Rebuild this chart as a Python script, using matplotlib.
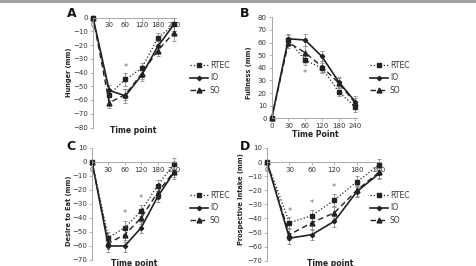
import numpy as np
import matplotlib
matplotlib.use("Agg")
import matplotlib.pyplot as plt
from matplotlib.lines import Line2D

# time points (categorical)
times = ["0", "30", "60", "120", "180", "240"]

# A - Hunger
hunger_rtec = [0, -56, -45, -37, -15, -5]
hunger_io = [0, -53, -57, -42, -21, -5]
hunger_so = [0, -62, -56, -41, -24, -11]
hunger_rtec_err = [0, 4, 5, 4, 4, 5]
hunger_io_err = [0, 4, 5, 4, 4, 5]
hunger_so_err = [0, 4, 4, 4, 4, 6]
hunger_stars = [(2, -36)]

# B - Fullness
full_rtec = [0, 62, 46, 40, 21, 9]
full_io = [0, 63, 62, 49, 29, 13]
full_so = [0, 60, 52, 41, 28, 12]
full_rtec_err = [0, 4, 4, 4, 3, 4]
full_io_err = [0, 4, 5, 4, 4, 5]
full_so_err = [0, 4, 5, 4, 4, 4]
full_stars = [(2, 35.5)]

# C - Desire to eat
desire_rtec = [0, -54, -47, -35, -17, -1.5]
desire_io = [0, -60, -60, -47, -25, -7.5]
desire_so = [0, -58, -52, -40, -22, -7]
desire_rtec_err = [0, 4, 5, 4, 4, 4]
desire_io_err = [0, 4, 4, 4, 4, 5]
desire_so_err = [0, 4, 5, 4, 4, 4]
desire_stars = [(2, -37), (3, -26)]

# D - Prospective intake
pi_rtec = [0, -43, -38, -27, -14, -2]
pi_io = [0, -54, -51.5, -42, -21, -8]
pi_so = [0, -51.5, -43, -36, -20, -7]
pi_rtec_err = [0, 4, 4, 4, 4, 4]
pi_io_err = [0, 4, 4, 4, 4, 4]
pi_so_err = [0, 4, 5, 4, 4, 4]
pi_stars = [(1, -35), (2, -29.5), (3, -18)]

W, H = 477, 266
fig = plt.figure(figsize=(W / 100, H / 100), dpi=100)
fig.patch.set_facecolor("white")

INK = "#222222"
ERR = "#8a8a8a"
SPINE = "#9a9a9a"


def axes_px(left, right, top, bottom):
    return fig.add_axes([left / W, 1 - bottom / H, (right - left) / W, (bottom - top) / H])


def panel(ax, rtec, io, so, e_r, e_i, e_s, stars, ylim, yticks, zero_line):
    x = np.arange(len(times))
    kw = dict(ecolor=ERR, elinewidth=0.6, capsize=1.5, capthick=0.6, clip_on=False)
    ax.errorbar(x, so, yerr=e_s, color=INK, ls=(0, (4, 2.5)), lw=1.0,
                marker="^", ms=3.5, **kw)
    ax.errorbar(x, rtec, yerr=e_r, color=INK, ls=":", lw=0.9,
                marker="s", ms=3.5, **kw)
    ax.errorbar(x, io, yerr=e_i, color=INK, ls="-", lw=1.2,
                marker="D", ms=2.2, **kw)
    for i, y in stars:
        ax.text(i, y, "*", ha="center", va="center", fontsize=6, color="#777777")
    ax.set_xlim(0, 5.1)
    ax.set_ylim(*ylim)
    ax.set_yticks(yticks)
    ax.set_xticks(x)
    ax.set_xticklabels(times)
    for s in ["top", "right"]:
        ax.spines[s].set_visible(False)
    if zero_line:
        ax.spines["bottom"].set_position(("data", 0))
    for s in ["left", "bottom"]:
        ax.spines[s].set_color(SPINE)
        ax.spines[s].set_linewidth(0.6)
    ax.tick_params(axis="both", labelsize=5, colors="#333333", length=2,
                   width=0.5, pad=1.5, direction="out")
    ax.tick_params(axis="both", color=SPINE)
    ax.patch.set_alpha(0)


axA = axes_px(93, 175.6, 17.5, 127.5)
panel(axA, hunger_rtec, hunger_io, hunger_so, hunger_rtec_err, hunger_io_err,
      hunger_so_err, hunger_stars, (-80, 0), range(-80, 1, 10), True)

axB = axes_px(271.7, 357, 17.3, 118.3)
panel(axB, full_rtec, full_io, full_so, full_rtec_err, full_io_err,
      full_so_err, full_stars, (0, 80), range(0, 81, 10), False)

axC = axes_px(92, 175.6, 147.7, 260)
panel(axC, desire_rtec, desire_io, desire_so, desire_rtec_err, desire_io_err,
      desire_so_err, desire_stars, (-70, 10), range(-70, 11, 10), True)

axD = axes_px(267, 381.5, 148, 260.7)
panel(axD, pi_rtec, pi_io, pi_so, pi_rtec_err, pi_io_err,
      pi_so_err, pi_stars, (-70, 10), range(-70, 11, 10), True)

# axis titles
lab = dict(fontsize=5.5, fontweight="bold", color="#222222")
ylab = dict(fontsize=4.8, fontweight="bold", color="#222222")
axA.set_ylabel("Hunger (mm)", **ylab)
axA.yaxis.set_label_coords(-0.25, 0.5)
axB.set_ylabel("Fullness (mm)", **ylab)
axB.yaxis.set_label_coords(-0.235, 0.45)
axC.set_ylabel("Desire to Eat (mm)", **ylab)
axC.yaxis.set_label_coords(-0.24, 0.44)
axD.set_ylabel("Prospective Intake (mm)", **ylab)
axD.yaxis.set_label_coords(-0.2, 0.55)

fig.text(133 / W, 1 - 131 / H, "Time point", ha="center", va="center", **lab)
fig.text(315 / W, 1 - 134.5 / H, "Time Point", ha="center", va="center", **lab)
fig.text(134 / W, 1 - 263 / H, "Time point", ha="center", va="center", **lab)
fig.text(330 / W, 1 - 263 / H, "Time point", ha="center", va="center", **lab)

# panel letters
for letter, px, py in [("A", 72, 14), ("B", 245, 14), ("C", 71, 146), ("D", 245, 146)]:
    fig.text(px / W, 1 - py / H, letter, ha="center", va="center",
             fontsize=9, fontweight="bold", color="#111111")

# legends
handles = [
    Line2D([], [], color=INK, ls=":", lw=0.9, marker="s", ms=3.5),
    Line2D([], [], color=INK, ls="-", lw=1.2, marker="D", ms=2.2),
    Line2D([], [], color=INK, ls=(0, (4, 2.5)), lw=1.0, marker="^", ms=3.5),
]
names = ["RTEC", "IO", "SO"]
for ax, lx, ly in [(axA, 190, 78), (axB, 370, 78), (axC, 190, 208), (axD, 370, 208)]:
    leg = ax.legend(handles, names, loc="center left",
                    bbox_to_anchor=(lx / W, 1 - ly / H), bbox_transform=fig.transFigure,
                    frameon=False, fontsize=5.5, handlelength=2.3, handletextpad=0.3,
                    labelspacing=0.45, borderpad=0, borderaxespad=0)
    for t in leg.get_texts():
        t.set_color("#333333")

# thin gray rule across the top
fig.add_artist(Line2D([0, 1], [1 - 1 / H, 1 - 1 / H], color="#9a9a9a", lw=2,
                      transform=fig.transFigure))

fig.savefig("out.png", dpi=100)
